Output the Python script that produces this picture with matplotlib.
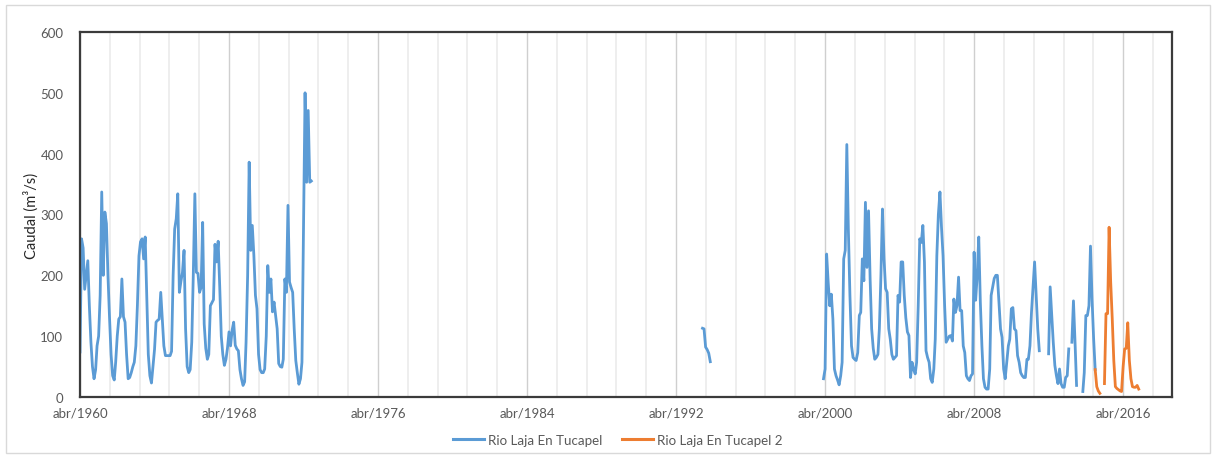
import numpy as np
import pandas as pd
import matplotlib
matplotlib.use("Agg")
import matplotlib.pyplot as plt
import matplotlib.dates as mdates
from matplotlib.ticker import AutoMinorLocator, FuncFormatter
from matplotlib.patches import Rectangle

nan = np.nan

# Caudal medio mensual (m3/s), estacion Rio Laja En Tucapel
# tramo 1: abr/1960 - sep/1972
tucapel_1960 = [
    74, 260, 245, 177, 200, 224, 150, 90, 50, 30, 45, 84,
    100, 167, 337, 200, 304, 285, 200, 130, 70, 35, 28, 57,
    100, 128, 132, 194, 132, 123, 70, 30, 32, 40, 50, 57,
    84, 150, 232, 255, 260, 227, 263, 167, 70, 35, 23, 50,
    78, 123, 126, 128, 172, 128, 84, 68, 68, 68, 68, 75,
    200, 276, 293, 334, 172, 190, 205, 241, 112, 50, 40, 45,
    90, 200, 334, 205, 203, 172, 180, 287, 120, 80, 62, 70,
    150, 155, 160, 251, 222, 256, 183, 100, 70, 52, 62, 80,
    107, 84, 110, 123, 85, 79, 76, 45, 30, 19, 25, 90,
    200, 386, 241, 282, 233, 167, 145, 70, 45, 40, 40, 46,
    100, 216, 172, 194, 140, 156, 135, 112, 55, 50, 49, 62,
    194, 172, 315, 189, 180, 172, 112, 60, 40, 21, 30, 57,
    290, 500, 353, 471, 353, 355,
]

# tramo 2: sep/1993 - feb/1994
tucapel_1993 = [113, 112, 82, 78, 72, 58]

# tramo 3: mar/2000 - oct/2014 (nan = sin dato)
tucapel_2000 = [
    30, 46, 235, 188, 150, 169, 128, 46, 35, 28, 20, 35,
    57, 227, 241, 415, 276, 167, 84, 65, 62, 60, 73, 134,
    139, 227, 191, 320, 213, 306, 194, 112, 80, 62, 65, 70,
    112, 200, 309, 227, 178, 172, 112, 95, 70, 62, 65, 68,
    167, 156, 222, 222, 167, 130, 107, 101, 32, 57, 45, 38,
    57, 150, 260, 254, 282, 222, 76, 65, 57, 30, 24, 46,
    95, 232, 300, 337, 280, 232, 150, 90, 95, 100, 101, 92,
    161, 139, 150, 197, 142, 142, 84, 73, 35, 30, 27, 35,
    38, 238, 159, 200, 263, 156, 84, 30, 16, 13, 13, 46,
    167, 181, 195, 200, 200, 156, 112, 98, 46, 30, 57, 84,
    95, 145, 147, 112, 109, 68, 57, 40, 35, 32, 32, 62,
    62, 84, 139, 180, 222, 167, 112, 76, nan, nan, nan, nan,
    nan, 71, 181, 134, 90, 52, 35, 22, 46, 22, 16, 16,
    32, 35, 79, nan, 90, 158, 90, 19, nan, nan, nan, 9,
    40, 134, 134, 150, 248, 160, 95, 45,
]

# Rio Laja En Tucapel 2: oct/2014 - feb/2017
tucapel2_2014 = [
    45, 17, 10, 6, nan, nan, 22, 137, 137, 279, 189, 128,
    60, 17, 14, 12, 10, 9, 50, 79, 80, 122, 60, 30,
    17, 16, 16, 19, 13,
]

meses = ["ene", "feb", "mar", "abr", "may", "jun",
         "jul", "ago", "sep", "oct", "nov", "dic"]


def serie(inicio, valores):
    fechas = pd.date_range(inicio, periods=len(valores), freq="MS")
    return fechas, np.array(valores, dtype=float)


plt.rcParams["font.family"] = ["Lato", "DejaVu Sans"]

fig = plt.figure(figsize=(12.16, 4.6), dpi=100)
ax = fig.add_axes([0.0658, 0.1348, 0.898, 0.7935])

azul = "#5B9BD5"
naranjo = "#ED7D31"

for inicio, valores in [("1960-04-01", tucapel_1960),
                        ("1993-09-01", tucapel_1993),
                        ("2000-03-01", tucapel_2000)]:
    x, y = serie(inicio, valores)
    ax.plot(x, y, color=azul, lw=2.0, solid_joinstyle="round")

x2, y2 = serie("2014-10-01", tucapel2_2014)
ax.plot(x2, y2, color=naranjo, lw=2.0, solid_joinstyle="round")

ax.set_xlim(pd.Timestamp("1960-04-01"), pd.Timestamp("2018-11-15"))
ax.set_ylim(0, 600)
ax.set_yticks(range(0, 601, 100))

ax.xaxis.set_major_locator(mdates.YearLocator(base=8, month=4, day=1))
ax.xaxis.set_minor_locator(AutoMinorLocator(5))
ax.xaxis.set_major_formatter(FuncFormatter(
    lambda v, pos: "%s/%d" % (meses[mdates.num2date(v).month - 1],
                             mdates.num2date(v).year)))

ax.grid(which="major", axis="x", color="#cfcfcf", lw=1.0)
ax.grid(which="minor", axis="x", color="#ebebeb", lw=1.2)
ax.set_axisbelow(True)

for lado in ["top", "bottom", "left", "right"]:
    ax.spines[lado].set_color("#3b3b3b")
    ax.spines[lado].set_linewidth(1.6)

ax.tick_params(axis="both", which="both", length=0, colors="#595959",
               labelsize=9.5)
ax.tick_params(axis="y", pad=12)
ax.tick_params(axis="x", pad=7)

ax.set_ylabel("Caudal (m³/s)", fontsize=10.5, color="#262626", labelpad=1)

fig.legend(
    handles=[plt.Line2D([], [], color=azul, lw=2.2),
             plt.Line2D([], [], color=naranjo, lw=2.2)],
    labels=["Rio Laja En Tucapel", "Rio Laja En Tucapel 2"],
    loc="center", bbox_to_anchor=(0.508, 0.041), ncol=2, frameon=False,
    fontsize=9.6, handlelength=2.3, handletextpad=0.3, columnspacing=1.5,
    labelcolor="#595959",
)

# marco exterior del grafico
fig.patches.append(Rectangle((0.005, 0.012), 0.99, 0.975,
                             transform=fig.transFigure, fill=False,
                             edgecolor="#d9d9d9", lw=1.0))

fig.savefig("out.png", dpi=100)
